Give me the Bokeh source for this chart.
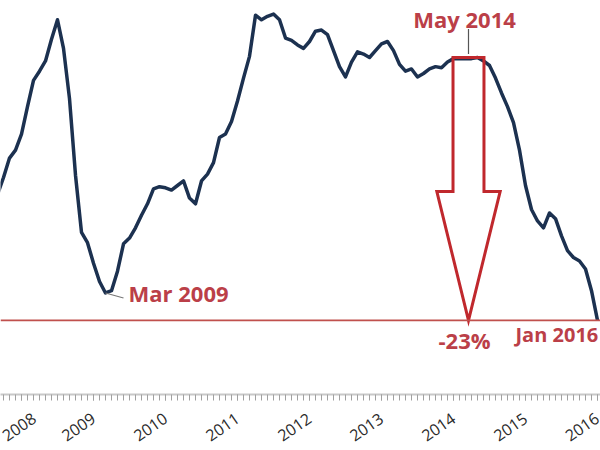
import math
import pandas as pd
from bokeh.plotting import figure
from bokeh.models import Range1d, FixedTicker, Span
from bokeh.core.properties import value
from bokeh.embed import file_html
from bokeh.resources import INLINE

# ---- data: monthly index, Sep 2007 .. Jan 2016 (May 2014 = 100) ----
start_month = "2007-09-01"
end_month = "2016-01-01"
index_values = [
    88.0, 89.5, 91.2, 91.9,                                             # Sep-Dec 2007
    93.3, 95.7, 98.0, 98.8, 99.7, 101.6, 103.3, 100.8, 96.4, 89.7, 84.7, 83.8,   # 2008
    82.0, 80.4, 79.4, 79.6, 81.3, 83.7, 84.2, 85.1, 86.2, 87.2, 88.5, 88.7,      # 2009
    88.6, 88.4, 88.8, 89.2, 87.7, 87.2, 89.2, 89.8, 90.8, 93.0, 93.3, 94.4,      # 2010
    96.2, 98.2, 100.1, 103.7, 103.3, 103.6, 103.8, 103.3, 101.7, 101.5, 101.1, 100.8,  # 2011
    101.4, 102.3, 102.4, 102.0, 100.6, 99.2, 98.3, 99.6, 100.5, 100.3, 100.0, 100.6,   # 2012
    101.2, 101.4, 100.6, 99.4, 98.8, 99.0, 98.3, 98.6, 99.0, 99.2, 99.1, 99.6,   # 2013
    99.9, 99.9, 99.9, 99.9, 100.0, 99.7, 99.3, 98.2, 96.9, 95.7, 94.3, 91.9,     # 2014
    88.8, 86.7, 85.7, 85.1, 86.4, 85.9, 84.4, 83.1, 82.5, 82.2, 81.5, 79.6,      # 2015
    77.0,                                                               # Jan 2016
]
tick_years = [2008, 2009, 2010, 2011, 2012, 2013, 2014, 2015, 2016]
trough_label = "Mar 2009"
peak_label = "May 2014"
end_label = "Jan 2016"
change_label = "-23%"

months = pd.date_range(start_month, end_month, freq="MS")
xs = [d.year + (d.month - 1) / 12 for d in months]
series = dict(zip([d.strftime("%b %Y") for d in months], zip(xs, index_values)))

tx, tv = series[trough_label]
px_, pv = series[peak_label]
ex, ev = series[end_label]

NAVY = "#1c3150"
RED_LINE = "#c0504d"
RED_ARROW = "#c0282d"
RED_TEXT = "#bb3f48"

p = figure(frame_width=600, frame_height=394, output_backend="svg",
           toolbar_location=None, y_axis_location=None,
           x_range=Range1d(2007.7083, 2016.0417), y_range=Range1d(70.516, 104.987),
           min_border=0, min_border_left=0, min_border_right=0,
           min_border_top=0, min_border_bottom=0)
p.outline_line_color = None
p.xgrid.visible = False
p.ygrid.visible = False
p.background_fill_color = "white"

# axis
minor = [y + m / 12 for y in range(2007, 2017) for m in range(12)]
p.xaxis.ticker = FixedTicker(ticks=tick_years, minor_ticks=minor)
p.xaxis.axis_line_color = "#c8c8c8"
p.xaxis.axis_line_width = 2
p.xaxis.major_tick_line_color = "#a0a0a0"
p.xaxis.minor_tick_line_color = "#a0a0a0"
p.xaxis.major_tick_in = 0
p.xaxis.major_tick_out = 6
p.xaxis.minor_tick_in = 0
p.xaxis.minor_tick_out = 6
p.xaxis.major_label_orientation = 0.6
p.xaxis.major_label_text_font = "Open Sans"
p.xaxis.major_label_text_font_size = "16px"
p.xaxis.major_label_text_color = "#2a2a2a"
p.xaxis.major_label_standoff = 16

# reference line at the trough level
p.add_layout(Span(location=ev, dimension="width", line_color=RED_LINE, line_width=1.8))

# main line
p.line(xs, index_values, line_color=NAVY, line_width=3.5, line_join="round")

# arrow (hollow block arrow from peak level down to end level)
ax = px_ - 1.5 / 12
shaft_hw, head_hw = 0.215, 0.44
wing_v = pv - 11.72
arrow_x = [ax - shaft_hw, ax + shaft_hw, ax + shaft_hw, ax + head_hw, ax,
           ax - head_hw, ax - shaft_hw, ax - shaft_hw]
arrow_y = [pv, pv, wing_v, wing_v, ev, wing_v, wing_v, pv]
p.patch(arrow_x, arrow_y, fill_color=None, line_color=RED_ARROW, line_width=3,
        line_join="miter")

# leader lines
p.segment(x0=[ax], y0=[pv + 0.3], x1=[ax], y1=[pv + 2.5], line_color="#555555", line_width=1.2)
p.segment(x0=[tx], y0=[tv], x1=[tx + 0.25], y1=[tv - 0.44], line_color="#777777", line_width=1.2)

# labels
common = dict(text_font=value("Open Sans"), text_font_style="bold", text_color=RED_TEXT)
p.text(x=[ax], y=[pv], text=[peak_label], text_align="center", text_baseline="alphabetic",
       x_offset=-4, y_offset=-39, text_font_size="22px", **common)
p.text(x=[tx], y=[tv], text=[trough_label], text_align="left", text_baseline="middle",
       x_offset=23, y_offset=0, text_font_size="22px", **common)
p.text(x=[ax], y=[ev], text=[change_label], text_align="center", text_baseline="alphabetic",
       x_offset=-4, y_offset=20, text_font_size="22px", **common)
p.text(x=[ex], y=[ev], text=[end_label], text_align="left", text_baseline="alphabetic",
       x_offset=-82, y_offset=14, text_font_size="20px", **common)

open("out.html", "w").write(file_html(p, INLINE))
